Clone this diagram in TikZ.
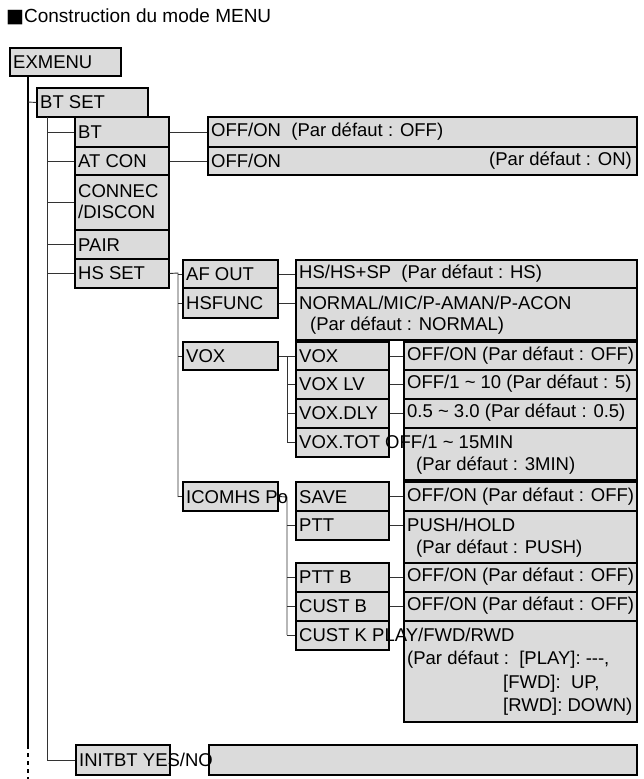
\documentclass[tikz,border=0pt]{standalone}
\usepackage{fontspec}
\setmainfont{Liberation Sans}
\newfontfamily\symf{DejaVu Sans}
\usetikzlibrary{fit}
\begin{document}
\begin{tikzpicture}[x=1pt,y=-1pt,
  box/.style={draw=black,line width=1.1pt,fill=black!14,inner sep=0pt},
  lbl/.style={anchor=west,inner sep=0pt,font=\fontsize{18.5}{21}\selectfont},
  con/.style={line width=0.9pt,black!80}]
\useasboundingbox (0,0) rectangle (643,779);
\node[anchor=west,inner sep=0pt,font=\fontsize{19}{21}\selectfont] (title) at (6,17) {{\symf ■}Construction du mode MENU};
\newcommand\mb[5]{\node[box,fit={(#2,#3)(#4,#5)}] (#1) {};}
% boxes
\mb{ex}{10}{48}{121}{76}
\mb{btset}{37}{88}{148}{117}
\mb{bt}{75}{117}{169}{147}
\mb{atcon}{75}{147}{169}{175}
\mb{connec}{75}{175}{169}{230}
\mb{pair}{75}{230}{169}{259}
\mb{hsset}{75}{259}{169}{288}
\mb{ra}{208}{117}{637}{147}
\mb{rb}{208}{147}{637}{175}
\mb{afout}{183}{260}{278}{288}
\mb{hsfunc}{183}{288}{278}{318}
\mb{raf}{296}{260}{637}{288}
\mb{rhf}{296}{288}{637}{340}
\mb{vox}{183}{342}{278}{370}
\mb{svox}{296}{342}{389}{370}
\mb{svlv}{296}{370}{389}{399}
\mb{svdly}{296}{399}{389}{428}
\mb{svtot}{296}{428}{389}{457}
\mb{rvox}{404}{342}{637}{370}
\mb{rvlv}{404}{370}{637}{399}
\mb{rvdly}{404}{399}{637}{428}
\mb{rvtot}{404}{428}{637}{480}
\mb{icom}{183}{482}{278}{511}
\mb{save}{296}{482}{389}{511}
\mb{ptt}{296}{511}{389}{540}
\mb{pttb}{296}{563}{389}{592}
\mb{custb}{296}{592}{389}{621}
\mb{custk}{296}{621}{389}{650}
\mb{rsave}{404}{482}{637}{511}
\mb{rptt}{404}{511}{637}{563}
\mb{rpttb}{404}{563}{637}{592}
\mb{rcustb}{404}{592}{637}{621}
\mb{rcustk}{404}{621}{637}{722}
\mb{initbt}{76}{745}{170}{775}
\mb{big}{209}{745}{637}{775}
% connectors
\coordinate (m0) at (28,76); \coordinate (m1) at (28,745); \coordinate (m2) at (28,779);
\draw[line width=1.4pt] (m0) -- (m1);
\draw[line width=1.4pt,dash pattern=on 4pt off 4pt] (m1) -- (m2);
\draw[con] (28,102) -- (btset.west);
\coordinate (v0) at (47,117); \coordinate (v1) at (47,760);
\draw[con] (v0) -- (v1) -- (initbt.west);
\foreach \n in {bt,atcon,connec,pair,hsset} \draw[con] (47,0 |- \n.west) -- (\n.west);
\draw[con] (bt.east) -- (bt.east -| ra.west);
\draw[con] (atcon.east) -- (atcon.east -| rb.west);
\coordinate (h0) at (178,273); \coordinate (h1) at (178,497);
\draw[con] (hsset.east) -- (h0) -- (h1);
\foreach \n in {afout,hsfunc,vox,icom} \draw[con] (178,0 |- \n.west) -- (\n.west);
\draw[con] (afout.east) -- (afout.east -| raf.west);
\draw[con] (hsfunc.east) -- (hsfunc.east -| rhf.west);
\coordinate (x0) at (287,356); \coordinate (x1) at (287,442);
\draw[con] (vox.east) -- (x0) -- (x1);
\foreach \n in {svox,svlv,svdly,svtot} \draw[con] (287,0 |- \n.west) -- (\n.west);
\draw[con] (svox.east) -- (rvox.west);
\draw[con] (svlv.east) -- (rvlv.west);
\draw[con] (svdly.east) -- (rvdly.west);
\coordinate (y0) at (287,497); \coordinate (y1) at (287,635);
\draw[con] (icom.east) -- (y0) -- (y1);
\foreach \n in {ptt,pttb,custb,custk} \draw[con] (287,0 |- \n.west) -- (\n.west);
\draw[con] (save.east) -- (rsave.west);
\draw[con] (ptt.east) -- (ptt.east -| rptt.west);
\draw[con] (pttb.east) -- (rpttb.west);
\draw[con] (custb.east) -- (rcustb.west);
% texts
\node[lbl] at (13,62) {EXMENU};
\node[lbl] at (40,102) {BT SET};
\node[lbl] at (78,132) {BT};
\node[lbl] at (78,161) {AT CON};
\node[lbl,align=left] at (78,202) {CONNEC\\/DISCON};
\node[lbl] at (78,245) {PAIR};
\node[lbl] at (78,273) {HS SET};
\node[lbl] at (211,132) {OFF/ON\ \ (Par défaut : OFF)};
\node[lbl] at (211,161) {OFF/ON};
\node[lbl,anchor=east] at (632,161) {(Par défaut : ON)};
\node[lbl] at (186,274) {AF OUT};
\node[lbl] at (186,303) {HSFUNC};
\node[lbl] at (299,274) {HS/HS+SP\ \ (Par défaut : HS)};
\node[lbl] at (299,303) {NORMAL/MIC/P-AMAN/P-ACON};
\node[lbl] at (310,326) {(Par défaut : NORMAL)};
\node[lbl] at (186,356) {VOX};
\node[lbl] at (299,356) {VOX};
\node[lbl] at (299,384) {VOX LV};
\node[lbl] at (299,413) {VOX.DLY};
\node[lbl] at (299,442) {VOX.TOT OFF/1 \textasciitilde{} 15MIN};
\node[lbl] at (416,466) {(Par défaut : 3MIN)};
\node[lbl] at (407,356) {OFF/ON (Par défaut : OFF)};
\node[lbl] at (407,384) {OFF/1 \textasciitilde{} 10 (Par défaut : 5)};
\node[lbl] at (407,413) {0.5 \textasciitilde{} 3.0 (Par défaut : 0.5)};
\node[lbl] at (186,497) {ICOMHS Po};
\node[lbl] at (299,497) {SAVE};
\node[lbl] at (299,525) {PTT};
\node[lbl] at (299,577) {PTT B};
\node[lbl] at (299,606) {CUST B};
\node[lbl] at (299,635) {CUST K PLAY/FWD/RWD};
\node[lbl] at (407,497) {OFF/ON (Par défaut : OFF)};
\node[lbl] at (407,525) {PUSH/HOLD};
\node[lbl] at (416,549) {(Par défaut : PUSH)};
\node[lbl] at (407,577) {OFF/ON (Par défaut : OFF)};
\node[lbl] at (407,606) {OFF/ON (Par défaut : OFF)};
\node[lbl] at (407,660) {(Par défaut :\ \ [PLAY]: {-}{-}{-},};
\node[lbl] at (503,684) {[FWD]:\ \ UP,};
\node[lbl] at (503,707) {[RWD]:\ DOWN)};
\node[lbl] at (79,760) {INITBT YES/NO};
\end{tikzpicture}
\end{document}
